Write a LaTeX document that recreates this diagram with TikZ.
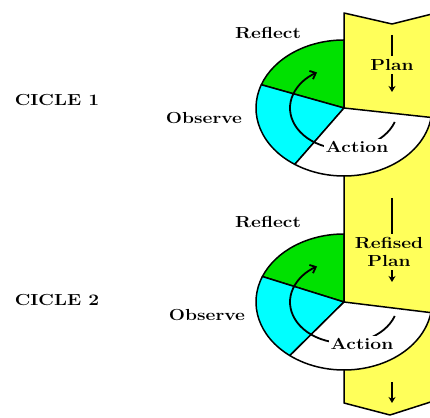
\documentclass[tikz,border=0pt]{standalone}
\usetikzlibrary{arrows.meta}
\definecolor{bandyellow}{RGB}{255,255,90}
\definecolor{refgreen}{RGB}{0,225,0}
\definecolor{obscyan}{RGB}{0,255,255}
\newcommand{\wide}[1]{\scalebox{1.2}[1]{#1}}
\tikzset{
  lbl/.style={font=\fontsize{16}{18}\selectfont\bfseries},
  rim/.style={draw=black, line width=1.5pt, line join=round},
  flow/.style={line width=2.2pt},
  turn/.style={line width=1.8pt, -{Straight Barb[length=5pt,width=9pt]}},
}

\begin{document}
\begin{tikzpicture}[x=1pt,y=1pt]
\useasboundingbox (0,0) rectangle (430,417);
\clip (0,0) rectangle (430,417);
\coordinate (c1) at (344,309);
\coordinate (c2) at (344,115);
% left part of the two circles
\filldraw[rim,fill=refgreen] (c1) -- ++(90:88 and 68) arc[start angle=90,end angle=160,x radius=88,y radius=68] -- cycle;
\filldraw[rim,fill=obscyan] (c1) -- ++(160:88 and 68) arc[start angle=160,end angle=236,x radius=88,y radius=68] -- cycle;
\filldraw[rim,fill=refgreen] (c2) -- ++(90:88 and 68) arc[start angle=90,end angle=158,x radius=88,y radius=68] -- cycle;
\filldraw[rim,fill=obscyan] (c2) -- ++(158:88 and 68) arc[start angle=158,end angle=232,x radius=88,y radius=68] -- cycle;
% plan band
\filldraw[rim,fill=bandyellow] (344,404) -- (392,393) -- (440,405) -- (440,18) -- (390,2) -- (344,14) -- cycle;
% action part lies over the band
\filldraw[rim,fill=white] (c1) -- ++(236:88 and 68) arc[start angle=236,end angle=352,x radius=88,y radius=68] -- cycle;
\filldraw[rim,fill=white] (c2) -- ++(232:88 and 68) arc[start angle=232,end angle=351,x radius=88,y radius=68] -- cycle;
\draw[turn] (c1) ++(-20:54 and 41) arc[start angle=-20,end angle=-240,x radius=54,y radius=41];
\draw[turn] (c2) ++(-20:54 and 41) arc[start angle=-20,end angle=-240,x radius=54,y radius=41];
% labels
\node[lbl] (cicle1) at (57,317) {\wide{CICLE 1}};
\node[lbl] (cicle2) at (57,117) {\wide{CICLE 2}};
\node[lbl] (reflect1) at (268,384) {\wide{Reflect}};
\node[lbl] (reflect2) at (268,195) {\wide{Reflect}};
\node[lbl] (observe1) at (204,299) {\wide{Observe}};
\node[lbl] (observe2) at (207,102) {\wide{Observe}};
\node[lbl,fill=white,inner sep=2pt] (action1) at (357,270) {\wide{Action}};
\node[lbl,fill=white,inner sep=2pt] (action2) at (362,73) {\wide{Action}};
\node[lbl] (plan1) at (392,352) {\wide{Plan}};
\node[lbl,align=center] (plan2) at (389,165) {\wide{Refised}\\\wide{Plan}};
% dashes down the band
\coordinate (top1) at (392,382);
\coordinate (low1) at (392,325);
\coordinate (top2) at (392,219);
\coordinate (low2) at (392,135);
\coordinate (top3) at (392,35);
\coordinate (low3) at (392,14);
\draw[flow] (top1) -- (plan1);
\draw[flow,-{Stealth[length=6pt,width=7pt]}] (plan1) -- (low1);
\draw[flow] (top2) -- (top2 |- plan2.north);
\draw[flow,-{Stealth[length=6pt,width=7pt]}] (low2 |- plan2.south) -- (low2);
\draw[flow,-{Stealth[length=6pt,width=7pt]}] (top3) -- (low3);
\end{tikzpicture}
\end{document}
